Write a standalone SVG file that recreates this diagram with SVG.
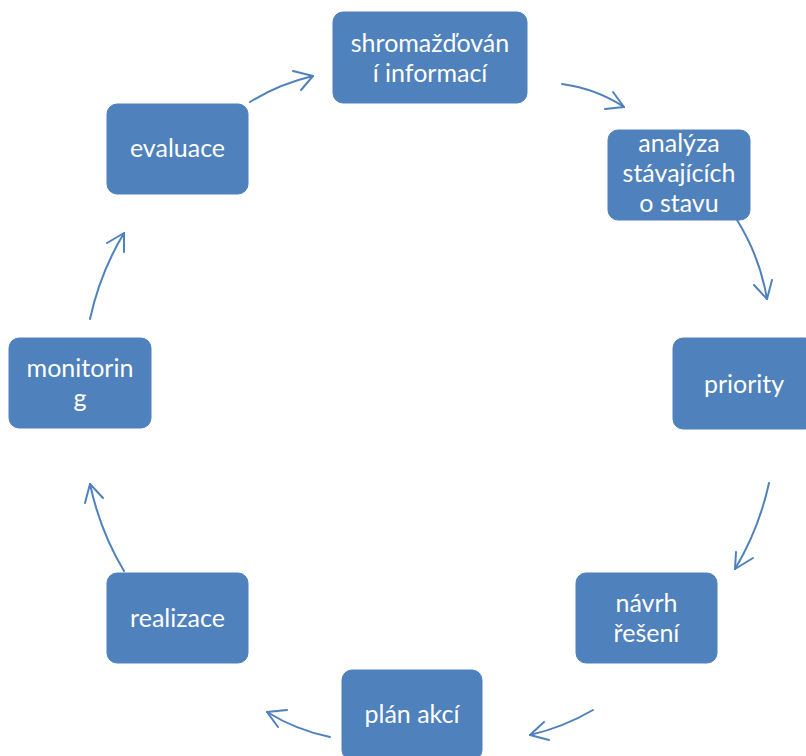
<svg xmlns="http://www.w3.org/2000/svg" width="806" height="756" viewBox="0 0 806 756">
<style>
.box{fill:#4F81BD;stroke:#4F81BD;stroke-width:1}
.lbl{fill:#FFFFFF;font-family:Lato,"Open Sans","Liberation Sans",sans-serif;font-size:25px;text-anchor:middle}
.con{fill:none;stroke:#4F81BD;stroke-width:2;stroke-linecap:round;stroke-linejoin:round}
</style>
<rect width="806" height="756" fill="#FFFFFF"/>
<g id="connectors">
<path class="con" d="M562,84 Q597,89 624,107"/>
<polyline class="con" points="613,92 624,107 605,109"/>
<path class="con" d="M737,220 Q760,257 767,299"/>
<polyline class="con" points="754,285 767,299 772,280"/>
<path class="con" d="M769,483 Q759,529 735,569"/>
<polyline class="con" points="753,558 735,569 736,552"/>
<path class="con" d="M593,710 Q564,727 530,735"/>
<polyline class="con" points="544,722 530,735 549,740"/>
<path class="con" d="M330,737 Q296,730 267,712"/>
<polyline class="con" points="287,710 267,712 278,727"/>
<path class="con" d="M124,571 Q100,531 90,484"/>
<polyline class="con" points="85,503 90,484 103,498"/>
<path class="con" d="M90,319 Q100,273 124,233"/>
<polyline class="con" points="107,243 124,233 124,252"/>
<path class="con" d="M250,102 Q279,84 313,76"/>
<polyline class="con" points="293,71 313,76 301,90"/>
</g>
<g id="node-shromazdovani">
<rect class="box" x="333" y="12" width="194" height="91" rx="10"/>
<text class="lbl" x="430" y="52">shromažďován</text>
<text class="lbl" x="430" y="82">í informací</text>
</g>
<g id="node-analyza">
<rect class="box" x="608" y="130" width="142" height="90" rx="10"/>
<text class="lbl" x="679" y="152">analýza</text>
<text class="lbl" x="679" y="182">stávajících</text>
<text class="lbl" x="679" y="212">o stavu</text>
</g>
<g id="node-priority">
<rect class="box" x="673" y="338" width="142" height="91" rx="10"/>
<text class="lbl" x="744" y="393">priority</text>
</g>
<g id="node-navrh">
<rect class="box" x="576" y="573" width="141" height="90" rx="10"/>
<text class="lbl" x="646.5" y="612">návrh</text>
<text class="lbl" x="646.5" y="642">řešení</text>
</g>
<g id="node-plan">
<rect class="box" x="342" y="670" width="140" height="90" rx="10"/>
<text class="lbl" x="412" y="723">plán akcí</text>
</g>
<g id="node-realizace">
<rect class="box" x="107" y="573" width="141" height="90" rx="10"/>
<text class="lbl" x="177.5" y="627">realizace</text>
</g>
<g id="node-monitoring">
<rect class="box" x="9" y="338" width="142" height="90" rx="10"/>
<text class="lbl" x="80" y="377">monitorin</text>
<text class="lbl" x="80" y="407">g</text>
</g>
<g id="node-evaluace">
<rect class="box" x="107" y="104" width="141" height="90" rx="10"/>
<text class="lbl" x="177.5" y="157">evaluace</text>
</g>
</svg>
